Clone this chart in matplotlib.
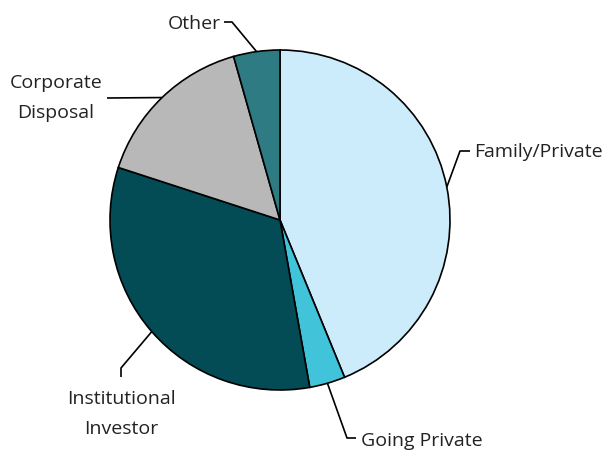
import numpy as np
import matplotlib.pyplot as plt

# shares of deals by seller type (%)
labels = ["Family/Private", "Going Private", "Institutional\nInvestor", "Corporate\nDisposal", "Other"]
shares = [43.8, 3.4, 32.8, 15.6, 4.4]
colors = ["#CCECFB", "#41C3DA", "#034B55", "#B8B8B8", "#2F7B84"]

W, H = 611, 450
plt.rcParams['font.family'] = ['Open Sans', 'DejaVu Sans']

fig = plt.figure(figsize=(W / 100, H / 100), dpi=100)
ax = fig.add_axes([0, 0, 1, 1])

cx, cy, r = 280, H - 220, 170
wedges, _ = ax.pie(shares, colors=colors, startangle=90, counterclock=False,
                   center=(cx, cy), radius=r, frame=True,
                   wedgeprops=dict(edgecolor='black', linewidth=1.2))
ax.set_xlim(0, W)
ax.set_ylim(0, H)
ax.set_aspect('equal')
ax.axis('off')

# leader line bends and label positions, in pixels from top-left
layout = [
    ([(460, 151), (470, 151)], (474, 152), 'left'),
    ([(347, 438), (356, 438)], (361, 441), 'left'),
    ([(121, 368), (121, 377)], (121, 414), 'center'),
    ([(107, 98)], (56, 98), 'center'),
    ([(232, 22), (224, 22)], (221, 24), 'right'),
]

for w, lab, (bends, (tx, ty), ha) in zip(wedges, labels, layout):
    mid = np.deg2rad((w.theta1 + w.theta2) / 2)
    xs = [cx + r * np.cos(mid)] + [b[0] for b in bends]
    ys = [cy + r * np.sin(mid)] + [H - b[1] for b in bends]
    ax.plot(xs, ys, color='black', linewidth=1.2, solid_capstyle='butt')
    ax.text(tx, H - ty, lab, ha=ha, va='center', fontsize=14,
            color='#222222', linespacing=1.8, multialignment='center')

fig.savefig('out.png', dpi=100)
